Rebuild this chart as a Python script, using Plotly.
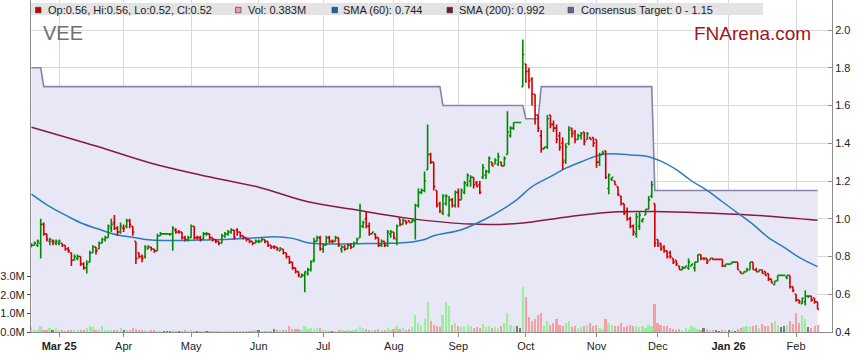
import plotly.graph_objects as go
import pandas as pd

# ---------------- data ----------------
start_date = "2025-02-18"

opens = [
    .85, .86, .86, .87, .97, .92, .88, .88, .87, .87,
    .87, .86, .84, .82, .78, .79, .80, .76, .74, .77,
    .82, .85, .84, .87, .89, .90, .95, .98, .95, .93,
    .95, .96, .99, .96, .88, .82, .80, .80, .84, .85,
    .84, .83, .91, .92, .92, .92, .92, .94, .93, .93,
    .90, .89, .90, .96, .90, .90, .89, .92, .92, .90,
    .89, .88, .87, .91, .92, .93, .94, .94, .93, .91,
    .90, .89, .88, .87, .88, .88, .89, .88, .86, .85,
    .85, .83, .84, .82, .80, .77, .74, .72, .69, .70,
    .71, .73, .78, .88, .90, .84, .86, .90, .88, .88,
    .90, .84, .85, .84, .86, .85, .87, .90, .96, 1.00,
    .96, .92, .92, .90, .86, .88, .86, .92, .93, .89,
    1.00, .97, .99, .99, .98, .99, 1.07, 1.14, 1.15, 1.26,
    1.34, 1.30, 1.15, 1.08, 1.03, 1.08, 1.02, 1.10, 1.07, 1.14,
    1.10, 1.14, 1.18, 1.20, 1.22, 1.19, 1.18, 1.22, 1.23, 1.25,
    1.30, 1.29, 1.29, 1.30, 1.28, 1.34, 1.44, 1.48, 1.51, 1.51,
    1.70, 1.82, 1.78, 1.74, 1.66, 1.55, 1.44, 1.37, 1.38, 1.55,
    1.50, 1.48, 1.44, 1.40, 1.31, 1.40, 1.48, 1.46, 1.42, 1.44,
    1.46, 1.42, 1.43, 1.43, 1.42, 1.30, 1.34, 1.36, 1.16, 1.21,
    1.20, 1.17, 1.12, 1.08, 1.04, 1.00, .96, .92, .96, .99,
    1.02, 1.05, 1.12, 1.08, .89, .87, .85, .83, .82, .79,
    .78, .75, .73, .74, .74, .75, .74, .77, .81, .79,
    .79, .78, .79, .785, .785, .785, .75, .76, .76, .77,
    .77, .72, .71, .72, .73, .77, .73, .72, .73, .72,
    .71, .68, .65, .67, .70, .70, .69, .70, .64, .60,
    .57, .55, .56, .59, .59, .58, .56,
]

highs = [
    .87, .88, .89, 1.00, .98, .92, .90, .89, .89, .89,
    .87, .86, .85, .82, .81, .81, .80, .77, .78, .83,
    .86, .85, .88, .90, .91, .97, 1.00, 1.02, .96, .98,
    .97, 1.00, 1.00, .96, .88, .82, .81, .86, .86, .85,
    .84, .92, .93, .92, .92, .92, .96, .95, .94, .93,
    .91, .91, .97, .96, .91, .91, .93, .93, .92, .90,
    .89, .88, .92, .93, .94, .95, .94, .95, .93, .91,
    .90, .89, .88, .89, .89, .90, .89, .88, .86, .86,
    .85, .85, .84, .82, .80, .77, .74, .72, .71, .72,
    .74, .78, .90, .91, .91, .87, .91, .91, .89, .91,
    .90, .86, .86, .87, .87, .88, .90, 1.08, .99, 1.04,
    .98, .93, .92, .90, .89, .88, .94, .94, .93, .97,
    1.00, 1.00, .99, .99, 1.00, 1.08, 1.16, 1.16, 1.25, 1.50,
    1.35, 1.30, 1.15, 1.09, 1.13, 1.13, 1.12, 1.11, 1.15, 1.16,
    1.16, 1.20, 1.24, 1.23, 1.22, 1.20, 1.20, 1.29, 1.26, 1.33,
    1.30, 1.32, 1.35, 1.30, 1.33, 1.57, 1.49, 1.51, 1.51, 1.51,
    1.95, 1.82, 1.80, 1.75, 1.66, 1.55, 1.47, 1.38, 1.55, 1.55,
    1.52, 1.50, 1.46, 1.43, 1.40, 1.49, 1.48, 1.47, 1.45, 1.46,
    1.46, 1.46, 1.43, 1.43, 1.42, 1.35, 1.36, 1.36, 1.24, 1.22,
    1.20, 1.17, 1.12, 1.08, 1.06, 1.01, .97, 1.03, 1.04, 1.00,
    1.05, 1.12, 1.20, 1.08, .89, .87, .86, .83, .83, .79,
    .78, .75, .75, .75, .79, .76, .77, .81, .81, .79,
    .79, .79, .79, .785, .785, .785, .76, .76, .77, .77,
    .77, .72, .72, .74, .77, .77, .74, .73, .73, .72,
    .71, .68, .67, .70, .70, .70, .70, .70, .64, .60,
    .57, .58, .62, .59, .59, .58, .56,
]

lows = [
    .85, .86, .85, .79, .91, .88, .86, .86, .86, .86,
    .85, .83, .82, .75, .78, .78, .75, .73, .71, .77,
    .82, .81, .84, .87, .88, .90, .93, .94, .91, .92,
    .93, .95, .95, .91, .76, .79, .77, .79, .84, .83,
    .82, .83, .91, .92, .92, .91, .83, .92, .92, .89,
    .88, .88, .90, .89, .89, .88, .89, .91, .89, .88,
    .87, .86, .87, .90, .91, .92, .89, .91, .90, .89,
    .88, .87, .86, .87, .87, .88, .87, .85, .84, .84,
    .83, .83, .81, .79, .76, .73, .71, .69, .69, .61,
    .70, .72, .77, .88, .83, .82, .86, .87, .87, .88,
    .85, .82, .83, .84, .84, .85, .87, .90, .95, .95,
    .91, .92, .89, .85, .85, .85, .85, .90, .89, .86,
    .96, .97, .97, .98, .98, .89, 1.06, 1.13, 1.14, 1.26,
    1.29, 1.15, 1.06, 1.03, 1.02, 1.07, 1.01, 1.06, 1.06, 1.06,
    1.10, 1.13, 1.17, 1.17, 1.16, 1.17, 1.13, 1.21, 1.21, 1.24,
    1.28, 1.29, 1.28, 1.28, 1.28, 1.34, 1.43, 1.47, 1.51, 1.51,
    1.70, 1.72, 1.69, 1.60, 1.50, 1.46, 1.35, 1.37, 1.37, 1.48,
    1.46, 1.40, 1.36, 1.26, 1.29, 1.39, 1.43, 1.40, 1.42, 1.42,
    1.39, 1.42, 1.42, 1.38, 1.27, 1.28, 1.34, 1.21, 1.13, 1.20,
    1.18, 1.12, 1.07, 1.02, .99, .95, .91, .90, .94, .98,
    1.02, 1.05, 1.11, .85, .85, .83, .82, .79, .79, .76,
    .75, .73, .73, .74, .73, .75, .72, .77, .78, .78,
    .76, .78, .78, .785, .785, .745, .745, .755, .76, .77,
    .73, .71, .71, .72, .73, .73, .72, .72, .71, .70,
    .67, .66, .65, .67, .70, .70, .68, .63, .61, .56,
    .55, .55, .54, .58, .56, .55, .52,
]

closes = [
    .86, .87, .88, .97, .92, .89, .89, .88, .88, .88,
    .86, .84, .83, .78, .80, .80, .76, .74, .76, .82,
    .85, .83, .87, .89, .90, .96, .97, .95, .93, .96,
    .95, .99, .97, .93, .79, .80, .79, .85, .85, .84,
    .83, .91, .92, .92, .92, .92, .95, .93, .93, .90,
    .89, .90, .96, .90, .90, .89, .92, .92, .90, .89,
    .88, .87, .91, .92, .93, .94, .90, .93, .91, .90,
    .89, .88, .87, .88, .88, .89, .88, .86, .85, .85,
    .84, .84, .82, .80, .77, .74, .72, .70, .70, .72,
    .73, .77, .88, .90, .84, .86, .90, .88, .88, .90,
    .86, .85, .84, .86, .85, .87, .89, .96, .98, .96,
    .92, .93, .90, .86, .88, .86, .93, .93, .90, .96,
    .97, .99, .98, .98, .99, 1.07, 1.14, 1.15, 1.20, 1.34,
    1.30, 1.17, 1.07, 1.04, 1.12, 1.12, 1.10, 1.07, 1.14, 1.10,
    1.15, 1.19, 1.23, 1.22, 1.18, 1.17, 1.14, 1.27, 1.25, 1.32,
    1.28, 1.31, 1.33, 1.28, 1.32, 1.46, 1.48, 1.51, 1.51, 1.51,
    1.87, 1.78, 1.73, 1.66, 1.55, 1.48, 1.37, 1.38, 1.53, 1.50,
    1.48, 1.42, 1.38, 1.30, 1.38, 1.47, 1.45, 1.42, 1.44, 1.45,
    1.41, 1.45, 1.42, 1.40, 1.30, 1.34, 1.35, 1.22, 1.23, 1.22,
    1.18, 1.13, 1.08, 1.03, 1.00, .96, .93, 1.01, 1.02, 1.00,
    1.05, 1.10, 1.18, .87, .86, .84, .83, .80, .80, .77,
    .76, .73, .74, .75, .77, .76, .77, .81, .79, .79,
    .77, .79, .785, .785, .785, .75, .76, .76, .77, .77,
    .73, .71, .72, .73, .77, .73, .72, .73, .71, .70,
    .68, .66, .67, .70, .70, .70, .70, .64, .62, .57,
    .56, .58, .59, .59, .57, .56, .52,
]

# volume in millions of shares
volumes_m = [
    .28, .10, .15, .30, .12, .08, .20, .12, .20, .10,
    .06, .05, .10, .08, .12, .06, .10, .08, .20, .30,
    .25, .10, .15, .30, .12, .06, .08, .10, .08, .20,
    .10, .12, .08, .20, .18, .12, .10, .06, .05, .06,
    .10, .05, .04, .03, .02, .05, .10, .05, .04, .05,
    .08, .05, .10, .05, .03, .02, .04, .03, .05, .02,
    .03, .02, .05, .04, .03, .05, .02, .05, .02, .04,
    .05, .03, .04, .10, .08, .05, .03, .05, .04, .15,
    .10, .10, .12, .08, .30, .15, .15, .15, .10, .30,
    .18, .20, .15, .20, .20, .10, .08, .05, .05, .05,
    .08, .10, .05, .06, .05, .10, .15, .25, .20, .15,
    .10, .08, .12, .15, .10, .10, .20, .10, .15, .30,
    .15, .20, .10, .15, .25, .90, .50, .30, .70, 1.60,
    .60, .40, .30, .25, .90, 1.60, 1.40, .40, .50, .30,
    .25, .30, .40, .30, .20, .25, .20, .45, .25, .30,
    .20, .25, .20, .30, .50, 1.00, .40, .25, .30, .20,
    2.40, 1.90, .80, .60, .70, .90, 1.00, .30, .60, .40,
    .50, .70, .40, .30, .50, .60, .25, .30, .20, .25,
    .30, .40, .50, .30, .40, .20, .15, .70, .50, .40,
    .30, .30, .50, .25, .30, .40, .35, .30, .25, .30,
    .20, .40, .30, 1.50, .50, .40, .30, .30, .20, .15,
    .10, .15, .10, .20, .15, .30, .20, .15, .10, .20,
    .15, .10, .10, .10, .05, .10, .10, .08, .10, .05,
    .15, .20, .25, .30, .25, .30, .40, .20, .45, .30,
    .35, .50, .60, .40, .25, .30, .40, .60, .45, 1.00,
    .50, .90, .70, .25, .20, .35, .383,
]

# moving averages, read at sample bars
sma60_idx = [0, 6, 12, 17, 22, 28, 33, 39, 55, 66, 74, 79, 85, 90, 96, 106, 117, 123, 128,
             131, 140, 148, 153, 158, 163, 169, 174, 180, 185, 189, 195, 201, 205, 210,
             215, 220, 225, 230, 235, 240, 245, 250, 256]
sma60_val = [1.131, 1.064, 1.011, 0.972, 0.944, 0.914, 0.902, 0.887, 0.887, 0.893, 0.900, 0.905,
             0.896, 0.873, 0.866, 0.868, 0.870, 0.875, 0.890,
             0.910, 0.942, 1.000, 1.046, 1.100, 1.170, 1.223, 1.268, 1.308, 1.338, 1.344,
             1.338, 1.329, 1.305, 1.260, 1.200, 1.150, 1.090, 1.030, 0.970, 0.900, 0.850,
             0.795, 0.746]

sma200_idx = [0, 21, 39, 55, 74, 90, 106, 123, 143, 159, 175, 191, 206, 222, 239, 256]
sma200_val = [1.485, 1.385, 1.294, 1.232, 1.167, 1.090, 1.046, 1.002, 0.972, 0.976,
              1.011, 1.037, 1.037, 1.029, 1.015, 0.992]

# consensus target steps
target_idx = [0, 3, 4, 133, 134, 160, 161, 165, 166, 202, 203, 256]
target_val = [1.80, 1.80, 1.70, 1.70, 1.60, 1.60, 1.53, 1.53, 1.70, 1.70, 1.15, 1.15]

price_ticks = [0.4, 0.6, 0.8, 1.0, 1.2, 1.4, 1.6, 1.8, 2.0]
vol_ticks = [0, 1, 2, 3]
vol_ticktext = ["0.0M", "1.0M", "2.0M", "3.0M"]
month_labels = ["<b>Mar 25</b>", "Apr", "May", "Jun", "Jul", "Aug", "Sep", "Oct",
                "Nov", "Dec", "<b>Jan 26</b>", "Feb"]

legend_items = [
    ("Op:0.56, Hi:0.56, Lo:0.52, Cl:0.52", "#CC0000"),
    ("Vol: 0.383M", "#F29A9A"),
    ("SMA (60): 0.744", "#1565A8"),
    ("SMA (200): 0.992", "#7E1030"),
    ("Consensus Target: 0 - 1.15", "#62628F"),
]

# ---------------- build ----------------
n = len(closes)
x = list(range(n))
dates = pd.bdate_range(start_date, periods=n)
month_pos = [i for i in range(1, n) if dates[i].month != dates[i - 1].month]

vol_colors = []
for o, c in zip(opens, closes):
    if c > o:
        vol_colors.append("#9AF09A")
    elif c < o:
        vol_colors.append("#F5A0A0")
    else:
        vol_colors.append("#7A7A7A")

FONT = "Liberation Sans, Arial, sans-serif"
L, R, T, B = 31, 27, 0, 31
W, H = 859, 363
pw, ph = W - L - R, H - T - B
price_range = [0.4, 0.4 + ph / 188.75]

fig = go.Figure()

# base layer: consensus target area + moving averages
fig.add_trace(go.Scatter(
    x=target_idx, y=target_val, mode="lines",
    line=dict(color="#8585AE", width=1.6),
    fill="tozeroy", fillcolor="#E7E7F6", hoverinfo="skip"))

fig.add_trace(go.Scatter(
    x=sma200_idx, y=sma200_val, mode="lines",
    line=dict(color="#861A40", width=1.5, shape="spline", smoothing=1.0),
    hoverinfo="skip"))

fig.add_trace(go.Scatter(
    x=sma60_idx, y=sma60_val, mode="lines",
    line=dict(color="#2A7DBA", width=1.5, shape="spline", smoothing=1.0),
    hoverinfo="skip"))

# volume (left axis)
fig.add_trace(go.Bar(
    x=x, y=volumes_m, marker=dict(color=vol_colors, line=dict(width=0)),
    width=0.65, yaxis="y2", hoverinfo="skip"))

# price bars on an overlaid copy of the price axis so they sit above the area fill
fig.add_trace(go.Ohlc(
    x=x, open=opens, high=highs, low=lows, close=closes,
    increasing=dict(line=dict(color="#008A00", width=1.6)),
    decreasing=dict(line=dict(color="#D00000", width=1.6)),
    tickwidth=0.5, yaxis="y3", hoverinfo="skip"))


def px(xp):
    return (xp - L) / pw


def py(yp):
    return (H - B - yp) / ph


shapes = [dict(type="rect", xref="paper", yref="paper",
               x0=px(31), x1=px(763), y0=py(15), y1=py(3),
               fillcolor="#E3E3E3", line=dict(width=0), layer="above")]
annotations = []
sq_x = [35.5, 235.5, 332, 447, 568]
tx_x = [46, 246, 341, 457, 579]
for (label, col), sx, tx in zip(legend_items, sq_x, tx_x):
    shapes.append(dict(type="rect", xref="paper", yref="paper",
                       x0=px(sx), x1=px(sx + 5.5), y0=py(12.8), y1=py(7.3),
                       fillcolor=col, line=dict(color="#333333", width=0.6), layer="above"))
    annotations.append(dict(text=label, xref="paper", yref="paper", x=px(tx), y=py(9.8),
                            xanchor="left", yanchor="middle", showarrow=False,
                            font=dict(family=FONT, size=11, color="#1E1E1E")))

annotations.append(dict(text="VEE", xref="paper", yref="paper", x=px(41), y=py(33),
                        xanchor="left", yanchor="middle", showarrow=False,
                        font=dict(family=FONT, size=20, color="#707070")))
annotations.append(dict(text="FNArena.com", xref="paper", yref="paper", x=px(692), y=py(33),
                        xanchor="left", yanchor="middle", showarrow=False,
                        font=dict(family=FONT, size=19, color="#A0161E")))

tick_font = dict(family=FONT, size=11, color="#1E1E1E")
fig.update_layout(
    width=W, height=H, margin=dict(l=L, r=R, t=T, b=B, autoexpand=False),
    paper_bgcolor="white", plot_bgcolor="white", showlegend=False,
    font=dict(family=FONT, size=11, color="#1E1E1E"),
    shapes=shapes, annotations=annotations,
    xaxis=dict(range=[-0.16, 260.7], tickmode="array", tickvals=month_pos, ticktext=month_labels,
               showgrid=True, gridcolor="#D8D8D8", gridwidth=1, zeroline=False,
               showline=True, linecolor="#8C8C8C", ticks="outside", ticklen=4,
               tickcolor="#8C8C8C", tickfont=tick_font, automargin=False,
               rangeslider=dict(visible=False)),
    yaxis=dict(side="right", range=price_range, tickmode="array",
               tickvals=price_ticks, tickformat=".1f", showgrid=True, gridcolor="#D8D8D8",
               zeroline=False, showline=True, linecolor="#8C8C8C", ticks="inside",
               ticklen=4, tickcolor="#8C8C8C", tickfont=tick_font, automargin=False),
    yaxis2=dict(overlaying="y", side="left", range=[0, ph / 18.55], tickmode="array",
                tickvals=vol_ticks, ticktext=vol_ticktext, showgrid=False, zeroline=False,
                showline=True, linecolor="#8C8C8C", ticks="outside", ticklen=3,
                tickcolor="#444444", tickfont=tick_font, automargin=False),
    yaxis3=dict(overlaying="y", side="right", range=price_range, visible=False,
                showgrid=False, zeroline=False, automargin=False),
    bargap=0,
)

fig.write_html("out.html",
               config={"displayModeBar": False},
               post_script="document.body.style.margin='0';document.body.style.padding='0';")
